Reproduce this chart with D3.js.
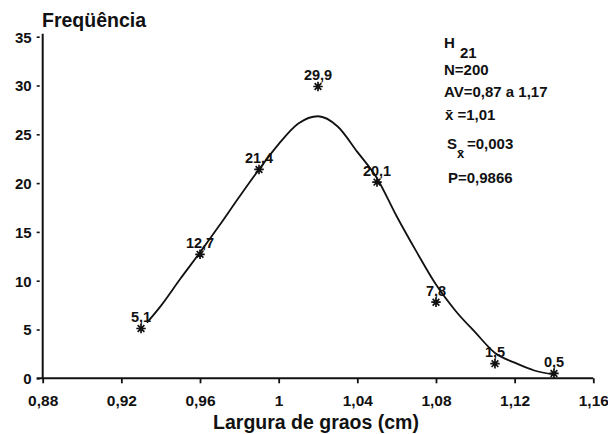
<!DOCTYPE html>
<html>
<head>
<meta charset="utf-8">
<script src="https://cdn.jsdelivr.net/npm/d3@7"></script>
<style>
  html, body { margin: 0; padding: 0; background: #fff; }
  svg { display: block; }
  text { font-family: "Liberation Sans", Arial, sans-serif; font-weight: bold; fill: #111; }
</style>
</head>
<body>
<svg id="chart" width="608" height="434"></svg>
<script>
// Observed frequencies by grain width class
const widths = [0.93, 0.96, 0.99, 1.02, 1.05, 1.08, 1.11, 1.14];
const freqs = [5.1, 12.7, 21.4, 29.9, 20.1, 7.8, 1.5, 0.5];
const freqLabels = ["5,1", "12,7", "21,4", "29,9", "20,1", "7,8", "1,5", "0,5"];

// Fitted curve, sampled along the width axis
const fitX = [0.933, 0.94, 0.95, 0.96, 0.97, 0.98, 0.99, 1.00, 1.01, 1.02, 1.03, 1.04,
              1.05, 1.06, 1.07, 1.08, 1.09, 1.10, 1.11, 1.12, 1.13, 1.14];
const fitY = [5.7, 7.4, 10.2, 12.9, 15.7, 18.6, 21.4, 24.0, 26.1, 26.85, 25.8, 23.2,
              20.5, 16.6, 13.0, 9.6, 6.9, 4.7, 2.6, 1.6, 0.8, 0.4];

// Axis ticks
const xTicks = [0.88, 0.92, 0.96, 1.00, 1.04, 1.08, 1.12, 1.16];
const xTickLabels = ["0,88", "0,92", "0,96", "1", "1,04", "1,08", "1,12", "1,16"];
const yTicks = [0, 5, 10, 15, 20, 25, 30, 35];

const svg = d3.select("#chart");

const x = d3.scaleLinear().domain([0.88, 1.16]).range([42.7, 593.3]);
const y = d3.scaleLinear().domain([0, 35]).range([378.3, 36.7]);

// Y axis
const yAxis = d3.axisLeft(y)
  .tickValues(yTicks)
  .tickSize(4)
  .tickPadding(6)
  .tickFormat(d3.format("d"));
const gy = svg.append("g").attr("transform", `translate(${x(0.88)},0)`).call(yAxis);
gy.select(".domain").remove();
gy.selectAll(".tick line").attr("stroke", "#111").attr("stroke-width", 1.6)
  .attr("x1", -6).attr("x2", -3);
gy.selectAll(".tick text").attr("font-size", 15).attr("dy", "0.36em").attr("x", -11);
gy.append("line")
  .attr("x1", 0).attr("x2", 0)
  .attr("y1", y(35) - 3).attr("y2", y(0) + 1)
  .attr("stroke", "#111").attr("stroke-width", 2);

// X axis
const xAxis = d3.axisBottom(x)
  .tickValues(xTicks)
  .tickSize(5)
  .tickPadding(12)
  .tickFormat((d, i) => xTickLabels[i]);
const gx = svg.append("g").attr("transform", `translate(0,${y(0)})`).call(xAxis);
gx.select(".domain").remove();
gx.selectAll(".tick line").attr("stroke", "#111").attr("stroke-width", 1.8);
gx.selectAll(".tick text").attr("font-size", 15.5);
gx.append("line")
  .attr("x1", x(0.88) - 6).attr("x2", x(1.16))
  .attr("y1", 0).attr("y2", 0)
  .attr("stroke", "#111").attr("stroke-width", 2);

// Axis titles
svg.append("text")
  .attr("x", 42).attr("y", 27)
  .attr("font-size", 19.5)
  .text("Freqüência");

svg.append("text")
  .attr("x", (x(0.88) + x(1.16)) / 2 - 2).attr("y", 429)
  .attr("text-anchor", "middle")
  .attr("font-size", 19.5)
  .text("Largura de graos (cm)");

// Fitted curve
const fitPts = fitX.map((v, i) => [v, fitY[i]]);
svg.append("path")
  .datum(fitPts)
  .attr("fill", "none")
  .attr("stroke", "#111")
  .attr("stroke-width", 1.8)
  .attr("d", d3.line().x(d => x(d[0])).y(d => y(d[1])).curve(d3.curveMonotoneX));

// Asterisk marker with eight spokes
const asterisk = {
  draw(ctx, size) {
    const r = Math.sqrt(size) / 2;
    const q = r * Math.SQRT1_2;
    ctx.moveTo(-r, 0); ctx.lineTo(r, 0);
    ctx.moveTo(0, -r); ctx.lineTo(0, r);
    ctx.moveTo(-q, -q); ctx.lineTo(q, q);
    ctx.moveTo(-q, q); ctx.lineTo(q, -q);
  }
};

const pts = widths.map((w, i) => ({ w, f: freqs[i], label: freqLabels[i] }));

svg.append("g").selectAll("path")
  .data(pts)
  .join("path")
  .attr("transform", d => `translate(${x(d.w)},${y(d.f)})`)
  .attr("d", d3.symbol().type(asterisk).size(90))
  .attr("stroke", "#111")
  .attr("stroke-width", 1.7)
  .attr("fill", "none");

svg.append("g").selectAll("text")
  .data(pts)
  .join("text")
  .attr("x", d => x(d.w))
  .attr("y", d => y(d.f) - 6.5)
  .attr("text-anchor", "middle")
  .attr("font-size", 14.5)
  .text(d => d.label);

// Summary statistics
const stats = svg.append("g").attr("font-size", 15);
const h = stats.append("text").attr("x", 444).attr("y", 48);
h.append("tspan").text("H");
h.append("tspan").attr("x", 460).attr("y", 58).text("21");

stats.append("text").attr("x", 444).attr("y", 75).text("N=200");
stats.append("text").attr("x", 444).attr("y", 97).text("AV=0,87 a 1,17");
stats.append("text").attr("x", 445).attr("y", 120).text("x\u0304 =1,01");

const s = stats.append("text").attr("x", 447).attr("y", 149);
s.append("tspan").text("S");
s.append("tspan").attr("x", 457).attr("y", 158).attr("font-size", 13).text("x\u0304");
s.append("tspan").attr("x", 467).attr("y", 149).text("=0,003");

stats.append("text").attr("x", 448).attr("y", 183).text("P=0,9866");
</script>
</body>
</html>
